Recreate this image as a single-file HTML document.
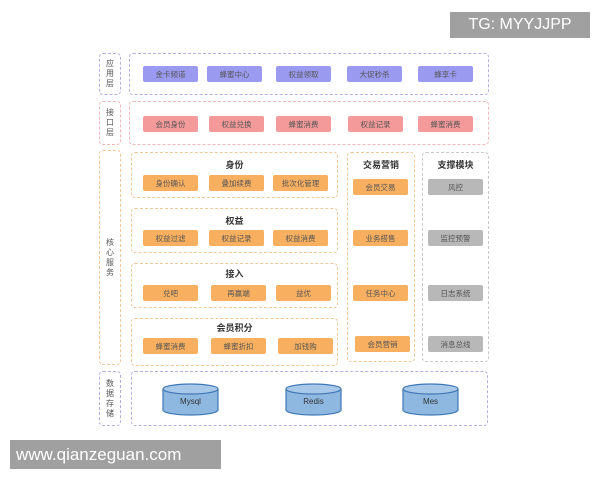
<!DOCTYPE html>
<html><head><meta charset="utf-8"><style>
body{margin:0;width:600px;height:480px;background:#fff;position:relative;overflow:hidden;font-family:"Liberation Sans","Noto Sans CJK SC",sans-serif}
.a{position:absolute;box-sizing:border-box}
.dp{border:1.5px dashed #b6aee0;border-radius:4px}
.dr{border:1.5px dashed #f0b8b8;border-radius:4px}
.do{border:1.5px dashed #f0c89a;border-radius:4px}
.dg{border:1.5px dashed #c8c8c8;border-radius:4px}
.lab{font-size:8px;color:#555;display:flex;align-items:center;justify-content:center;text-align:center;line-height:10px}
.b{position:absolute;height:16px;width:55px;border-radius:2px;font-size:7.5px;color:#555;display:flex;align-items:center;justify-content:center}
.p{background:#9a9af0}.r{background:#f59a9a}.o{background:#f8b060}.g{background:#b8b8b8}
.t{position:absolute;font-size:9px;font-weight:bold;color:#333;text-align:center}
</style></head><body>
<div class="a" style="left:450px;top:12px;width:140px;height:26px;background:#a0a0a0;color:#fff;font-size:16px;display:flex;align-items:center;justify-content:center">TG: MYYJJPP</div>

<div class="a dp lab" style="left:99px;top:53px;width:22px;height:42px">应<br>用<br>层</div>
<div class="a dp" style="left:129px;top:53px;width:360px;height:42px"></div>
<div class="b p" style="left:143px;top:66px">金卡频道</div>
<div class="b p" style="left:207px;top:66px">蜂蜜中心</div>
<div class="b p" style="left:276px;top:66px">权益领取</div>
<div class="b p" style="left:347px;top:66px">大促秒杀</div>
<div class="b p" style="left:418px;top:66px">蜂享卡</div>

<div class="a dr lab" style="left:99px;top:101px;width:22px;height:44px">接<br>口<br>层</div>
<div class="a dr" style="left:129px;top:101px;width:360px;height:44px"></div>
<div class="b r" style="left:143px;top:116px">会员身份</div>
<div class="b r" style="left:209px;top:116px">权益兑换</div>
<div class="b r" style="left:276px;top:116px">蜂蜜消费</div>
<div class="b r" style="left:348px;top:116px">权益记录</div>
<div class="b r" style="left:418px;top:116px">蜂蜜消费</div>

<div class="a do lab" style="left:99px;top:150px;width:22px;height:215px">核<br>心<br>服<br>务</div>
<div class="a do" style="left:131px;top:152px;width:207px;height:46px"></div>
<div class="t" style="left:131px;top:158px;width:207px">身份</div>
<div class="b o" style="left:143px;top:175px">身份确认</div>
<div class="b o" style="left:209px;top:175px">叠加续费</div>
<div class="b o" style="left:273px;top:175px">批次化管理</div>

<div class="a do" style="left:131px;top:208px;width:207px;height:45px"></div>
<div class="t" style="left:131px;top:214px;width:207px">权益</div>
<div class="b o" style="left:143px;top:230px">权益过滤</div>
<div class="b o" style="left:209px;top:230px">权益记录</div>
<div class="b o" style="left:273px;top:230px">权益消费</div>

<div class="a do" style="left:131px;top:263px;width:207px;height:45px"></div>
<div class="t" style="left:131px;top:267px;width:207px">接入</div>
<div class="b o" style="left:143px;top:285px">兑吧</div>
<div class="b o" style="left:211px;top:285px">再赢端</div>
<div class="b o" style="left:276px;top:285px">益优</div>

<div class="a do" style="left:131px;top:318px;width:207px;height:48px"></div>
<div class="t" style="left:131px;top:321px;width:207px">会员积分</div>
<div class="b o" style="left:143px;top:338px">蜂蜜消费</div>
<div class="b o" style="left:211px;top:338px">蜂蜜折扣</div>
<div class="b o" style="left:278px;top:338px">加钱购</div>

<div class="a do" style="left:347px;top:152px;width:68px;height:210px"></div>
<div class="t" style="left:347px;top:158px;width:68px">交易营销</div>
<div class="b o" style="left:353px;top:179px">会员交易</div>
<div class="b o" style="left:353px;top:230px">业务搭售</div>
<div class="b o" style="left:353px;top:285px">任务中心</div>
<div class="b o" style="left:355px;top:336px">会员营销</div>

<div class="a dg" style="left:422px;top:152px;width:67px;height:210px"></div>
<div class="t" style="left:422px;top:158px;width:67px">支撑模块</div>
<div class="b g" style="left:428px;top:179px">风控</div>
<div class="b g" style="left:428px;top:230px">监控预警</div>
<div class="b g" style="left:428px;top:285px">日志系统</div>
<div class="b g" style="left:428px;top:336px">消息总线</div>

<div class="a dp lab" style="left:99px;top:371px;width:22px;height:55px">数<br>据<br>存<br>储</div>
<div class="a dp" style="left:131px;top:371px;width:357px;height:55px"></div>
<svg class="a" style="left:0;top:0" width="600" height="480">
<g stroke="#3f77b5" stroke-width="1.2" font-family="Liberation Sans" font-size="8" fill="#333">
<g><path d="M163 389 v21 a27.5 5 0 0 0 55 0 v-21" fill="#8fb8e0"/><ellipse cx="190.5" cy="389" rx="27.5" ry="5" fill="#a8c8ea"/><text x="190.5" y="404" text-anchor="middle" stroke="none">Mysql</text></g>
<g><path d="M286 389 v21 a27.5 5 0 0 0 55 0 v-21" fill="#8fb8e0"/><ellipse cx="313.5" cy="389" rx="27.5" ry="5" fill="#a8c8ea"/><text x="313.5" y="404" text-anchor="middle" stroke="none">Redis</text></g>
<g><path d="M403 389 v21 a27.5 5 0 0 0 55 0 v-21" fill="#8fb8e0"/><ellipse cx="430.5" cy="389" rx="27.5" ry="5" fill="#a8c8ea"/><text x="430.5" y="404" text-anchor="middle" stroke="none">Mes</text></g>
</g></svg>
<div class="a" style="left:10px;top:440px;width:211px;height:29px;background:#a0a0a0;color:#fff;font-size:17px;display:flex;align-items:center;padding-left:6px">www.qianzeguan.com</div>
</body></html>
